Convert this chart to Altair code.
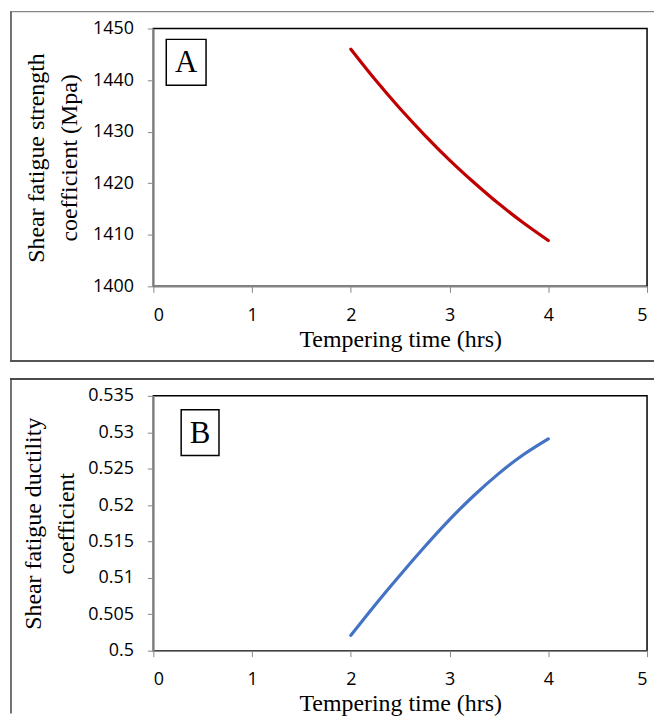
import altair as alt
import pandas as pd

# ---- data ----
hours = [2, 2.25, 2.5, 2.75, 3, 3.25, 3.5, 3.75, 4]
strength = [1446.0, 1440.0, 1434.45, 1429.3, 1424.5, 1420.1, 1416.0, 1412.3, 1408.9]
ductility = [0.5021, 0.50635, 0.5104, 0.5143, 0.5180, 0.52135, 0.52435, 0.52695, 0.5291]

x_ticks = [0, 1, 2, 3, 4, 5]
yA_ticks = [1400, 1410, 1420, 1430, 1440, 1450]
yB_ticks = [0.5, 0.505, 0.51, 0.515, 0.52, 0.525, 0.53, 0.535]

labelA = ["A"]
labelA_x = [0.131, 0.534]
labelA_y = [1439.0, 1447.9]
labelB = ["B"]
labelB_x = [0.282, 0.665]
labelB_y = [0.5268, 0.5331]

W = 496
HA = 259
HB = 256

dfA = pd.DataFrame({"hours": hours, "value": strength})
dfB = pd.DataFrame({"hours": hours, "value": ductility})


def label_df(lbl, xs, ys):
    return pd.DataFrame({
        "label": lbl,
        "x1": [xs[0]], "x2": [xs[1]], "xc": [(xs[0] + xs[1]) / 2],
        "y1": [ys[0]], "y2": [ys[1]], "yc": [(ys[0] + ys[1]) / 2],
    })


def panel(df, color, ydomain, yticks, yfmt, ytitle, lab, h, title_x, frame_bottom, draw_bottom, top_color):
    xaxis = alt.Axis(values=x_ticks, format="d", title="Tempering time (hrs)",
                     titleY=60, titleBaseline="alphabetic")
    yaxis = alt.Axis(values=yticks, format=yfmt, title=ytitle,
                     titleX=title_x, titleY=h / 2, titleBaseline="middle",
                     titleAngle=270, titleAlign="center", titleLineHeight=33)
    xs = alt.Scale(domain=[0, 5], nice=False, zero=False)
    ys = alt.Scale(domain=ydomain, nice=False, zero=False)

    line = alt.Chart(df).mark_line(color=color, strokeWidth=3.2, interpolate="natural",
                                   strokeCap="round").encode(
        x=alt.X("hours:Q", scale=xs, axis=xaxis),
        y=alt.Y("value:Q", scale=ys, axis=yaxis),
    )
    box = alt.Chart(lab).mark_rect(fill="white", stroke="black", strokeWidth=1.5).encode(
        x=alt.X("x1:Q", scale=xs, axis=xaxis), x2="x2:Q",
        y=alt.Y("y1:Q", scale=ys, axis=yaxis), y2="y2:Q",
    )
    txt = alt.Chart(lab).mark_text(font="Liberation Serif", fontSize=31, color="black",
                                   baseline="middle", align="center", dy=1).encode(
        x=alt.X("xc:Q", scale=xs, axis=xaxis),
        y=alt.Y("yc:Q", scale=ys, axis=yaxis),
        text="label:N",
    )
    dummy = pd.DataFrame({"d": [0]})
    top = alt.Chart(dummy).mark_rule(color=top_color, strokeWidth=1.5).encode(
        x=alt.value(-144), x2=alt.value(503), y=alt.value(-17))
    left = alt.Chart(dummy).mark_rule(color="#444444", strokeWidth=1.5).encode(
        x=alt.value(-143), y=alt.value(-17), y2=alt.value(frame_bottom))
    layers = [top, left]
    if draw_bottom:
        bottom = alt.Chart(dummy).mark_rule(color="#555555", strokeWidth=2).encode(
            x=alt.value(-144), x2=alt.value(503), y=alt.value(frame_bottom))
        layers.append(bottom)
    return alt.layer(*layers, line, box, txt).properties(width=W, height=h)


A = panel(dfA, "#C00000", [1400, 1450], yA_ticks, "d",
          ["Shear fatigue strength", "coefficient (Mpa)"],
          label_df(labelA, labelA_x, labelA_y), HA, -117, 334, True, "#888888")
B = panel(dfB, "#4472C4", [0.5, 0.535], yB_ticks, "~g",
          ["Shear fatigue ductility", "coefficient"],
          label_df(labelB, labelB_x, labelB_y), HB, -120, 319, False, "#111111")

chart = alt.vconcat(A, B, spacing=14).properties(
    padding={"left": 0, "top": 0, "right": 0, "bottom": 0}
).configure_view(
    stroke="black", strokeWidth=1.5
).configure_axis(
    grid=False,
    domainColor="#868686", domainWidth=1.5,
    tickColor="#868686", tickSize=6, tickWidth=1,
    labelFont="Open Sans", labelFontSize=18, labelColor="black",
    titleFont="Liberation Serif", titleFontSize=24, titleFontWeight="normal",
    titleColor="black",
).configure_axisX(labelPadding=14).configure_axisY(labelPadding=14)

chart.save("out.html", embed_options={"renderer": "svg", "actions": False})
